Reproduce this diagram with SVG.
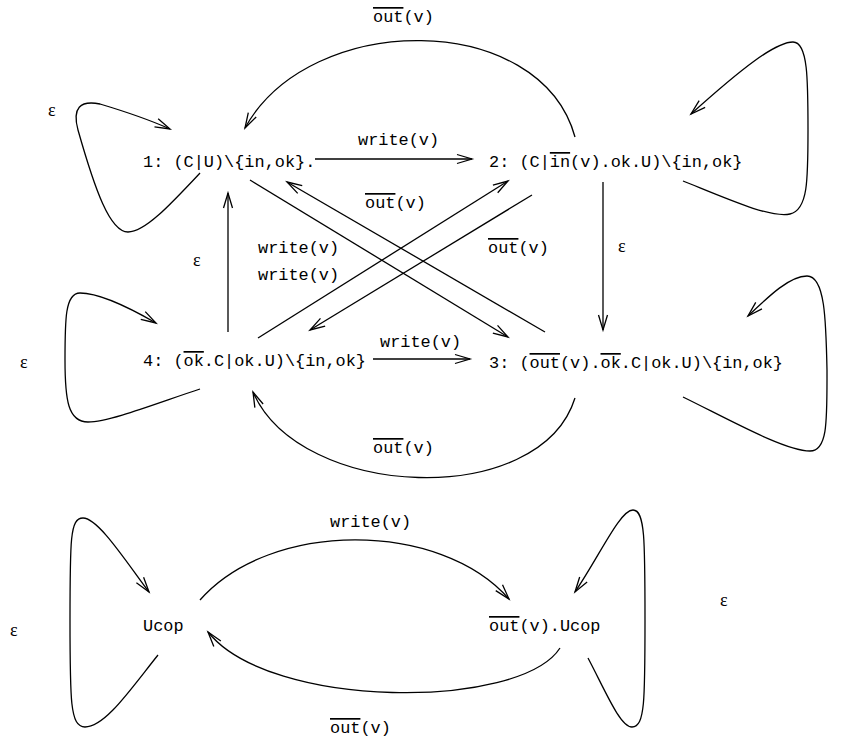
<svg xmlns="http://www.w3.org/2000/svg" width="855" height="739" viewBox="0 0 855 739">
<defs>
<style>
.t{font-family:"Liberation Mono","Courier New",monospace;font-size:16.9px;fill:#000}
.e{font-family:"Liberation Serif","Times New Roman",serif;font-size:18px;fill:#000}
.o{text-decoration:overline}
.c{fill:none;stroke:#000;stroke-width:1.3}
.a{marker-end:url(#ah)}
</style>
<marker id="ah" markerUnits="userSpaceOnUse" markerWidth="20" markerHeight="14" viewBox="-16 -7 18 14" refX="0" refY="0" orient="auto">
<path d="M-15,-4.5 L0,0 L-15,4.5" fill="none" stroke="#000" stroke-width="1.3"/>
</marker>
</defs>
<rect width="855" height="739" fill="#fff"/>
<g id="connectors">
<path class="c a" d="M315,159 L472,159"/>
<path class="c a" d="M603,182 L603,330"/>
<path class="c a" d="M228,332 L228,193"/>
<path class="c a" d="M373,359 L470,359"/>
<path class="c a" d="M250,180 L508,337"/>
<path class="c a" d="M545,332 L287,182"/>
<path class="c a" d="M258,338 L508,181"/>
<path class="c a" d="M532,195 L310,330"/>
<path class="c a" d="M575,137 C540,10 310,10 245,128"/>
<path class="c a" d="M575,398 C540,510 300,500 253,392"/>
<path class="c a" d="M200,173 C170,205 145,232 128,232 C110,232 95,190 78,130 C72,108 80,100 100,104 C120,110 150,120 170,129"/>
<path class="c a" d="M683,181 C730,200 770,218 790,214 C808,210 808,180 808,130 C808,80 808,42 793,42 C775,42 740,70 691,114"/>
<path class="c a" d="M200,389 C160,402 110,422 88,422 C68,422 65,400 65,360 C65,320 65,293 80,293 C100,293 130,308 156,323"/>
<path class="c a" d="M683,397 C730,420 785,451 810,451 C828,451 827,420 827,370 C826,320 825,276 807,276 C790,276 770,295 748,316"/>
<path class="c a" d="M200,600 C270,520 440,520 509,599"/>
<path class="c a" d="M560,648 C520,710 270,710 208,632"/>
<path class="c a" d="M158,655 C130,690 105,727 85,727 C70,727 70,700 70,620 C70,540 70,518 83,518 C98,518 125,560 149,592"/>
<path class="c a" d="M588,658 C605,690 620,727 632,727 C645,727 645,700 645,620 C645,540 645,510 633,510 C620,510 600,555 575,592"/>
<g id="labels">
<text class="t" x="358" y="145">write(v)</text>
<text class="t" x="380" y="347">write(v)</text>
<text class="t" x="373" y="22"><tspan class="o">out</tspan>(v)</text>
<text class="t" x="373" y="453"><tspan class="o">out</tspan>(v)</text>
<text class="t" x="365" y="208"><tspan class="o">out</tspan>(v)</text>
<text class="t" x="488" y="253"><tspan class="o">out</tspan>(v)</text>
<text class="t" x="258" y="253">write(v)</text>
<text class="t" x="258" y="280">write(v)</text>
<text class="e" x="618" y="252">ε</text>
<text class="e" x="193" y="266">ε</text>
<text class="e" x="48" y="116">ε</text>
<text class="e" x="20" y="368">ε</text>
<text class="t" x="330" y="527">write(v)</text>
<text class="t" x="330" y="733"><tspan class="o">out</tspan>(v)</text>
<text class="e" x="10" y="636">ε</text>
<text class="e" x="720" y="606">ε</text>
</g>
</g>
<g id="n1"><text class="t" x="143" y="167">1: (C|U)\{in,ok}.</text></g>
<g id="n2"><text class="t" x="489" y="167">2: (C|<tspan class="o">in</tspan>(v).ok.U)\{in,ok}</text></g>
<g id="n3"><text class="t" x="489" y="368">3: (<tspan class="o">out</tspan>(v).<tspan class="o">ok</tspan>.C|ok.U)\{in,ok}</text></g>
<g id="n4"><text class="t" x="143" y="366">4: (<tspan class="o">ok</tspan>.C|ok.U)\{in,ok}</text></g>
<g id="ucop"><text class="t" x="143" y="631">Ucop</text></g>
<g id="outucop"><text class="t" x="489" y="631"><tspan class="o">out</tspan>(v).Ucop</text></g>
</svg>
